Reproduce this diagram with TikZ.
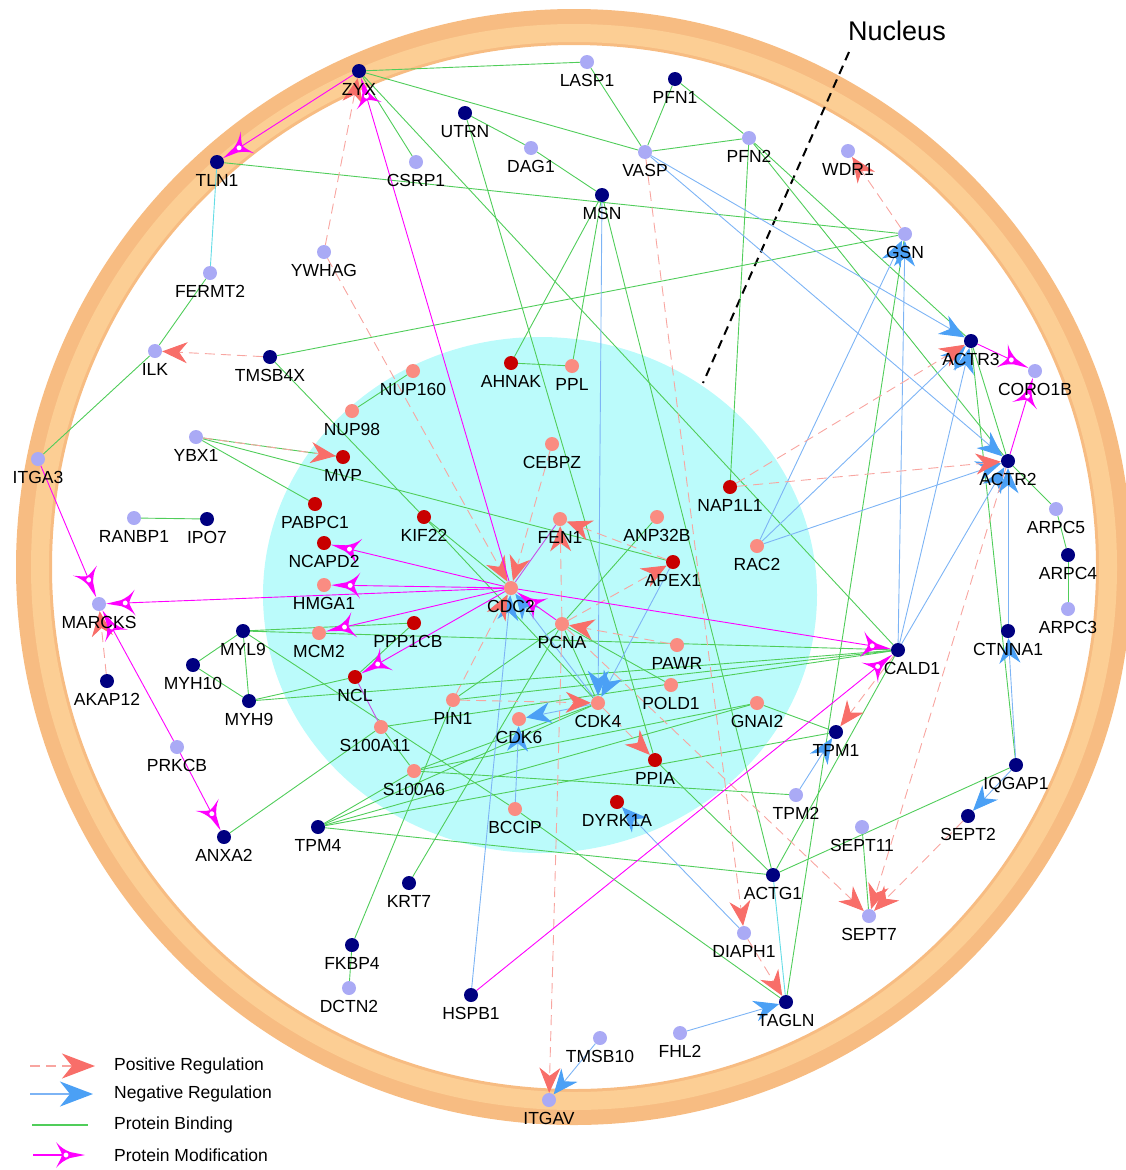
\documentclass[tikz,border=0pt]{standalone}
\usepackage{fontspec}
\setmainfont{Liberation Sans}
\usetikzlibrary{arrows.meta}
\definecolor{navyc}{RGB}{0,0,128}
\definecolor{lavc}{RGB}{170,170,245}
\definecolor{salc}{RGB}{250,140,130}
\definecolor{redc}{RGB}{200,0,0}
\definecolor{bindc}{RGB}{80,205,90}
\definecolor{negline}{RGB}{125,180,245}
\definecolor{negarrow}{RGB}{75,160,245}
\definecolor{posline}{RGB}{248,165,160}
\definecolor{posarrow}{RGB}{248,110,105}
\definecolor{modc}{RGB}{255,0,255}
\definecolor{modl}{RGB}{200,80,230}
\definecolor{cyanc}{RGB}{100,220,230}
\definecolor{nucc}{RGB}{187,251,251}
\definecolor{ringa}{RGB}{247,188,130}
\definecolor{ringb}{RGB}{252,206,148}
\pgfdeclarelayer{bg}
\pgfsetlayers{bg,main}
\pgfdeclarearrow{
  name=ModTip,
  setup code={
    \pgfarrowssettipend{0pt}
    \pgfarrowssetlineend{-19pt}
    \pgfarrowssetvisualbackend{-29pt}
    \pgfarrowssetbackend{-29pt}
    \pgfarrowshullpoint{0pt}{0pt}
    \pgfarrowshullpoint{-29pt}{13pt}
    \pgfarrowshullpoint{-29pt}{-13pt}
  },
  drawing code={
    \pgfsetdash{}{0pt}
    \pgfsetfillcolor{modc}
    \pgfpathmoveto{\pgfqpoint{0pt}{0pt}}
    \pgfpathlineto{\pgfqpoint{-15pt}{3pt}}
    \pgfpathcurveto{\pgfqpoint{-20pt}{5pt}}{\pgfqpoint{-25pt}{8pt}}{\pgfqpoint{-29pt}{13pt}}
    \pgfpathcurveto{\pgfqpoint{-26pt}{7pt}}{\pgfqpoint{-24pt}{4pt}}{\pgfqpoint{-23pt}{0pt}}
    \pgfpathcurveto{\pgfqpoint{-24pt}{-4pt}}{\pgfqpoint{-26pt}{-7pt}}{\pgfqpoint{-29pt}{-13pt}}
    \pgfpathcurveto{\pgfqpoint{-25pt}{-8pt}}{\pgfqpoint{-20pt}{-5pt}}{\pgfqpoint{-15pt}{-3pt}}
    \pgfpathclose
    \pgfusepathqfill
    \pgfpathcircle{\pgfqpoint{-19pt}{0pt}}{3.3pt}
    \pgfsetfillcolor{white}
    \pgfsetstrokecolor{modc}
    \pgfsetlinewidth{1.3pt}
    \pgfusepathqfillstroke
  },
}
\newcommand\gnode[5][]{\node[#2,label={[#1]below:#3}] (#3) at (#4,#5) {};}
\begin{document}
\begin{tikzpicture}[x=1pt,y=-1pt,
  gn/.style={circle,inner sep=0pt,minimum size=14pt,draw=none},
  nv/.style={gn,fill=navyc},
  lv/.style={gn,fill=lavc},
  sa/.style={gn,fill=salc},
  dr/.style={gn,fill=redc},
  every label/.style={font=\fontsize{17.5}{20}\selectfont,inner sep=0pt,text=black},
  label distance=5pt,
  bindline/.style={draw=bindc,line width=0.9pt},
  cyanline/.style={draw=cyanc,line width=0.9pt},
  negreg/.style={draw=negline,line width=0.9pt,-{Stealth[length=25pt,width=21pt,inset=8pt,color=negarrow]}},
  posreg/.style={draw=posline,line width=0.9pt,dash pattern=on 10pt off 6pt,-{Stealth[length=25pt,width=21pt,inset=8pt,color=posarrow]}},
  modreg/.style={draw=modc,line width=0.9pt,-{ModTip}},
  modplain/.style={draw=modl,line width=0.9pt},
  legtxt/.style={font=\fontsize{17.5}{20}\selectfont,anchor=west,inner sep=0pt}
]
\useasboundingbox (0,0) rectangle (1126,1170);
% navy nodes
\gnode{nv}{ZYX}{359}{71}
\gnode{nv}{PFN1}{675}{79}
\gnode{nv}{UTRN}{465}{113}
\gnode{nv}{TLN1}{217}{162}
\gnode{nv}{MSN}{602}{195}
\gnode{nv}{TMSB4X}{270}{357}
\gnode{nv}{IPO7}{207}{519}
\gnode{nv}{ACTR3}{971}{341}
\gnode{nv}{ACTR2}{1008}{461}
\gnode{nv}{ARPC4}{1068}{555}
\gnode{nv}{MYL9}{243}{631}
\gnode{nv}{MYH10}{193}{665}
\gnode{nv}{MYH9}{249}{701}
\gnode[xshift=14pt]{nv}{CALD1}{898}{650}
\gnode{nv}{CTNNA1}{1008}{631}
\gnode{nv}{TPM1}{836}{732}
\gnode{nv}{IQGAP1}{1016}{765}
\gnode{nv}{SEPT2}{968}{816}
\gnode{nv}{TPM4}{318}{827}
\gnode{nv}{ANXA2}{224}{837}
\gnode{nv}{ACTG1}{773}{875}
\gnode{nv}{KRT7}{409}{883}
\gnode{nv}{FKBP4}{352}{945}
\gnode{nv}{HSPB1}{471}{995}
\gnode{nv}{TAGLN}{786}{1002}
\gnode{nv}{AKAP12}{107}{681}
% lavender nodes
\gnode{lv}{LASP1}{587}{62}
\gnode{lv}{PFN2}{749}{138}
\gnode{lv}{VASP}{645}{152}
\gnode{lv}{DAG1}{531}{148}
\gnode{lv}{CSRP1}{416}{162}
\gnode{lv}{WDR1}{848}{151}
\gnode{lv}{GSN}{905}{234}
\gnode{lv}{YWHAG}{324}{252}
\gnode{lv}{FERMT2}{210}{273}
\gnode{lv}{ILK}{155}{351}
\gnode{lv}{ITGA3}{38}{459}
\gnode{lv}{YBX1}{196}{437}
\gnode{lv}{RANBP1}{134}{518}
\gnode{lv}{MARCKS}{99}{604}
\gnode{lv}{CORO1B}{1035}{371}
\gnode{lv}{ARPC5}{1056}{509}
\gnode{lv}{ARPC3}{1068}{609}
\gnode{lv}{PRKCB}{177}{747}
\gnode{lv}{TPM2}{796}{795}
\gnode{lv}{SEPT11}{862}{827}
\gnode{lv}{SEPT7}{869}{916}
\gnode{lv}{DIAPH1}{744}{933}
\gnode{lv}{DCTN2}{349}{988}
\gnode{lv}{TMSB10}{600}{1038}
\gnode{lv}{FHL2}{680}{1033}
\gnode{lv}{ITGAV}{549}{1100}
% salmon nodes
\gnode{sa}{NUP160}{413}{371}
\gnode{sa}{NUP98}{352}{411}
\gnode{sa}{CEBPZ}{552}{444}
\gnode{sa}{FEN1}{560}{519}
\gnode{sa}{ANP32B}{657}{517}
\gnode{sa}{CDC2}{511}{588}
\gnode{sa}{HMGA1}{324}{585}
\gnode{sa}{MCM2}{319}{633}
\gnode{sa}{PCNA}{562}{624}
\gnode{sa}{PAWR}{677}{645}
\gnode{sa}{POLD1}{671}{685}
\gnode{sa}{PIN1}{453}{700}
\gnode{sa}{CDK4}{598}{703}
\gnode{sa}{CDK6}{519}{719}
\gnode[xshift=-6pt]{sa}{S100A11}{381}{727}
\gnode{sa}{S100A6}{414}{771}
\gnode{sa}{GNAI2}{757}{703}
\gnode{sa}{BCCIP}{515}{809}
\gnode{sa}{RAC2}{757}{546}
\gnode{sa}{PPL}{572}{366}
% dark red nodes
\gnode{dr}{AHNAK}{511}{363}
\gnode{dr}{MVP}{343}{457}
\gnode{dr}{PABPC1}{315}{504}
\gnode{dr}{KIF22}{424}{517}
\gnode{dr}{NCAPD2}{324}{543}
\gnode[xshift=-6pt]{dr}{PPP1CB}{414}{623}
\gnode{dr}{NCL}{355}{677}
\gnode{dr}{APEX1}{673}{562}
\gnode{dr}{NAP1L1}{730}{487}
\gnode{dr}{PPIA}{655}{760}
\gnode{dr}{DYRK1A}{617}{802}
% title and legend anchors
\node[font=\fontsize{27}{30}\selectfont,inner sep=0pt] (nuctitle) at (897,31) {Nucleus};
\coordinate (nl1) at (849,52);
\coordinate (nl2) at (703,383);
\coordinate (lpa) at (30,1066); \coordinate (lpb) at (95,1066);
\coordinate (lna) at (30,1094); \coordinate (lnb) at (93,1094);
\coordinate (lba) at (32,1125); \coordinate (lbb) at (88,1125);
\coordinate (lma) at (33,1155); \coordinate (lmb) at (85,1155);
\node[legtxt] (t1) at (114,1066) {Positive Regulation};
\node[legtxt] (t2) at (114,1094) {Negative Regulation};
\node[legtxt] (t3) at (114,1125) {Protein Binding};
\node[legtxt] (t4) at (114,1155) {Protein Modification};
\begin{pgfonlayer}{bg}
\draw[ringa,line width=36pt] (574,567) circle[radius=540];
\draw[ringb,line width=18pt] (574,567) circle[radius=534];
\fill[nucc] (540,595) ellipse[x radius=277,y radius=258];
\draw[black,line width=2pt,dash pattern=on 9pt off 6pt] (nl1) -- (nl2);
% binding
\foreach \a/\b in {ZYX/LASP1,ZYX/VASP,ZYX/CSRP1,ZYX/CALD1,TLN1/GSN,UTRN/DAG1,DAG1/MSN,UTRN/PPIA,
  LASP1/VASP,PFN1/VASP,PFN1/PFN2,VASP/PFN2,PFN2/NAP1L1,PFN2/ACTR3,PFN2/ACTR2,MSN/AHNAK,MSN/PPL,
  MSN/ACTG1,AHNAK/PPL,TMSB4X/GSN,TMSB4X/KIF22,KIF22/CDK4,KIF22/CDC2,FERMT2/ILK,ILK/ITGA3,
  NUP160/NUP98,YBX1/MVP,YBX1/PABPC1,YBX1/APEX1,RANBP1/IPO7,MYL9/MYH10,MYH10/MYH9,MYL9/MYH9,
  MYL9/PPP1CB,MYL9/CALD1,MYL9/BCCIP,MYH9/NCL,MYH9/CALD1,NCL/PPP1CB,S100A11/S100A6,S100A11/ANXA2,
  TPM4/S100A6,TPM4/CDK4,TPM4/GNAI2,TPM4/TPM1,TPM4/ACTG1,S100A6/CDK4,S100A6/GNAI2,S100A6/TPM2,
  PCNA/ANP32B,PCNA/POLD1,PCNA/CDK4,PIN1/PCNA,PIN1/FKBP4,KRT7/PCNA,GNAI2/TPM1,ACTR3/ACTR2,
  ACTR3/IQGAP1,ACTR2/ARPC5,ARPC5/ARPC4,ARPC4/ARPC3,IQGAP1/ACTG1,SEPT11/SEPT7,ACTG1/CALD1,
  TAGLN/GSN,BCCIP/TAGLN,PPIA/ACTG1,DCTN2/FKBP4,CALD1/PIN1,CALD1/S100A11}
  \draw[bindline] (\a) -- (\b);
\draw[cyanline] (TLN1) -- (FERMT2);
\draw[cyanline] (ACTG1) -- (TAGLN);
% negative regulation
\foreach \a/\b in {VASP/ACTR3,VASP/ACTR2,MSN/CDK4,APEX1/CDK4,CDK4/CDC2,HSPB1/CDC2,CDK4/CDK6,
  BCCIP/CDK6,RAC2/ACTR3,RAC2/ACTR2,RAC2/GSN,CALD1/GSN,CALD1/ACTR3,CALD1/ACTR2,CTNNA1/ACTR2,
  IQGAP1/CTNNA1,IQGAP1/SEPT2,FHL2/TAGLN,TMSB10/ITGAV,DIAPH1/DYRK1A,TPM2/TPM1}
  \draw[negreg] (\a) -- (\b);
% positive regulation
\foreach \a/\b in {YWHAG/ZYX,YWHAG/CDC2,CEBPZ/CDC2,TMSB4X/ILK,AKAP12/MARCKS,YBX1/MVP,GSN/WDR1,
  VASP/DIAPH1,PIN1/CDC2,PIN1/CDK4,PCNA/FEN1,APEX1/FEN1,PCNA/APEX1,PAWR/PCNA,CDK4/PPIA,
  NAP1L1/ACTR3,NAP1L1/ACTR2,ACTR2/SEPT7,PCNA/SEPT7,SEPT2/SEPT7,CALD1/TPM1,DIAPH1/TAGLN,PCNA/ITGAV}
  \draw[posreg] (\a) -- (\b);
% protein modification
\foreach \a/\b in {ZYX/TLN1,CDC2/ZYX,ITGA3/MARCKS,CDC2/MARCKS,PRKCB/MARCKS,PRKCB/ANXA2,
  CDC2/NCAPD2,CDC2/HMGA1,CDC2/MCM2,CDC2/NCL,CDC2/CALD1,PCNA/CDC2,HSPB1/CALD1,ACTR3/CORO1B,ACTR2/CORO1B}
  \draw[modreg] (\a) -- (\b);
\draw[modplain] (CDC2) -- (FEN1);
\draw[modplain] (NCL) -- (S100A11);
% legend
\draw[posreg,line width=2pt,-{Stealth[length=33pt,width=25pt,inset=10pt,color=posarrow]}] (lpa) -- (lpb);
\draw[negreg,line width=2pt,-{Stealth[length=33pt,width=25pt,inset=10pt,color=negarrow]}] (lna) -- (lnb);
\draw[draw=bindc,line width=2pt] (lba) -- (lbb);
\draw[modreg,line width=2pt] (lma) -- (lmb);
\end{pgfonlayer}
\end{tikzpicture}
\end{document}
